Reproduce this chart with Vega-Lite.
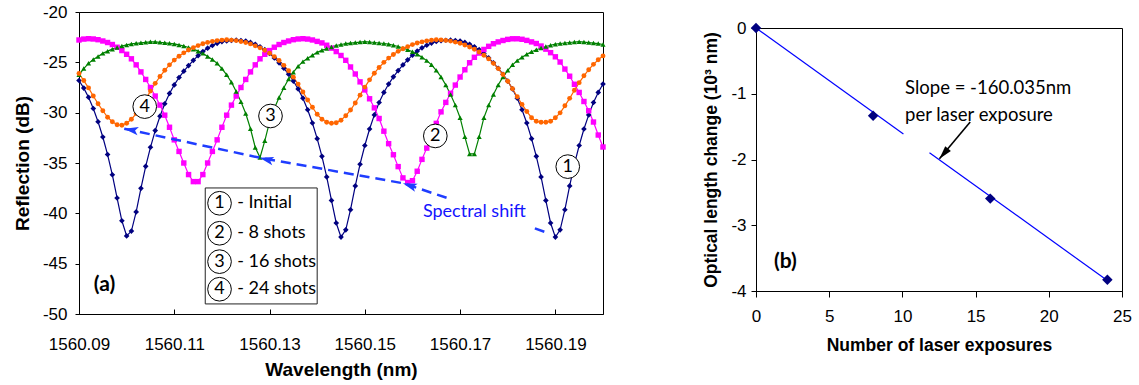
{
  "$schema": "https://vega.github.io/schema/vega-lite/v6.json",
  "padding": {"left": 12, "top": 2, "right": 5, "bottom": 5},
  "spacing": 94,
  "config": {
    "view": {"stroke": "#000", "strokeWidth": 1},
    "axis": {"grid": false, "labelFont": "Liberation Sans", "titleFont": "Liberation Sans", "labelColor": "#000", "titleColor": "#000", "domainColor": "#000", "tickColor": "#000", "labelFontSize": 17, "titleFontWeight": "bold", "labelFlush": false, "labelOverlap": false}
  },
  "datasets": {
    "spec": [
      {"wl":1560.090,"s0":-26.8,"s8":-22.78,"s16":-26.24,"s24":-26.11},
      {"wl":1560.091,"s0":-27.56,"s8":-22.69,"s16":-25.62,"s24":-26.81},
      {"wl":1560.092,"s0":-28.47,"s8":-22.65,"s16":-25.1,"s24":-27.54},
      {"wl":1560.093,"s0":-29.59,"s8":-22.68,"s16":-24.72,"s24":-28.34},
      {"wl":1560.094,"s0":-30.9,"s8":-22.75,"s16":-24.41,"s24":-29.11},
      {"wl":1560.095,"s0":-32.42,"s8":-22.88,"s16":-24.11,"s24":-29.81},
      {"wl":1560.096,"s0":-34.16,"s8":-23.03,"s16":-23.89,"s24":-30.45},
      {"wl":1560.097,"s0":-36.17,"s8":-23.23,"s16":-23.69,"s24":-30.9},
      {"wl":1560.098,"s0":-38.48,"s8":-23.5,"s16":-23.53,"s24":-31.2},
      {"wl":1560.099,"s0":-40.74,"s8":-23.83,"s16":-23.38,"s24":-31.25},
      {"wl":1560.100,"s0":-42.24,"s8":-24.2,"s16":-23.27,"s24":-31.05},
      {"wl":1560.101,"s0":-41.76,"s8":-24.65,"s16":-23.17,"s24":-30.65},
      {"wl":1560.102,"s0":-39.86,"s8":-25.25,"s16":-23.11,"s24":-30.09},
      {"wl":1560.103,"s0":-37.52,"s8":-25.95,"s16":-23.06,"s24":-29.39},
      {"wl":1560.104,"s0":-35.33,"s8":-26.7,"s16":-23.01,"s24":-28.66},
      {"wl":1560.105,"s0":-33.44,"s8":-27.5,"s16":-22.96,"s24":-27.86},
      {"wl":1560.106,"s0":-31.78,"s8":-28.35,"s16":-22.96,"s24":-27.09},
      {"wl":1560.107,"s0":-30.35,"s8":-29.25,"s16":-23.01,"s24":-26.41},
      {"wl":1560.108,"s0":-29.11,"s8":-30.25,"s16":-23.06,"s24":-25.79},
      {"wl":1560.109,"s0":-28.09,"s8":-31.45,"s16":-23.11,"s24":-25.25},
      {"wl":1560.110,"s0":-27.24,"s8":-32.7,"s16":-23.17,"s24":-24.78},
      {"wl":1560.111,"s0":-26.51,"s8":-33.85,"s16":-23.27,"s24":-24.4},
      {"wl":1560.112,"s0":-25.88,"s8":-35.0,"s16":-23.38,"s24":-24.06},
      {"wl":1560.113,"s0":-25.32,"s8":-36.15,"s16":-23.53,"s24":-23.78},
      {"wl":1560.114,"s0":-24.8,"s8":-36.85,"s16":-23.69,"s24":-23.54},
      {"wl":1560.115,"s0":-24.34,"s8":-36.85,"s16":-23.89,"s24":-23.34},
      {"wl":1560.116,"s0":-23.92,"s8":-36.15,"s16":-24.11,"s24":-23.16},
      {"wl":1560.117,"s0":-23.59,"s8":-35.0,"s16":-24.41,"s24":-23.02},
      {"wl":1560.118,"s0":-23.33,"s8":-33.85,"s16":-24.72,"s24":-22.92},
      {"wl":1560.119,"s0":-23.11,"s8":-32.7,"s16":-25.1,"s24":-22.84},
      {"wl":1560.120,"s0":-22.95,"s8":-31.45,"s16":-25.62,"s24":-22.79},
      {"wl":1560.121,"s0":-22.87,"s8":-30.25,"s16":-26.24,"s24":-22.75},
      {"wl":1560.122,"s0":-22.82,"s8":-29.25,"s16":-26.98,"s24":-22.79},
      {"wl":1560.123,"s0":-22.8,"s8":-28.35,"s16":-27.9,"s24":-22.84},
      {"wl":1560.124,"s0":-22.84,"s8":-27.5,"s16":-28.92,"s24":-22.93},
      {"wl":1560.125,"s0":-22.89,"s8":-26.7,"s16":-30.08,"s24":-23.03},
      {"wl":1560.126,"s0":-23.02,"s8":-25.95,"s16":-31.6,"s24":-23.17},
      {"wl":1560.127,"s0":-23.21,"s8":-25.25,"s16":-33.46,"s24":-23.36},
      {"wl":1560.128,"s0":-23.45,"s8":-24.65,"s16":-34.45,"s24":-23.56},
      {"wl":1560.129,"s0":-23.74,"s8":-24.2,"s16":-32.8,"s24":-23.8},
      {"wl":1560.130,"s0":-24.12,"s8":-23.83,"s16":-30.92,"s24":-24.09},
      {"wl":1560.131,"s0":-24.56,"s8":-23.5,"s16":-29.58,"s24":-24.43},
      {"wl":1560.132,"s0":-25.05,"s8":-23.23,"s16":-28.5,"s24":-24.82},
      {"wl":1560.133,"s0":-25.59,"s8":-23.03,"s16":-27.52,"s24":-25.3},
      {"wl":1560.134,"s0":-26.18,"s8":-22.88,"s16":-26.66,"s24":-25.84},
      {"wl":1560.135,"s0":-26.86,"s8":-22.75,"s16":-25.98,"s24":-26.47},
      {"wl":1560.136,"s0":-27.64,"s8":-22.68,"s16":-25.4,"s24":-27.16},
      {"wl":1560.137,"s0":-28.56,"s8":-22.65,"s16":-24.93,"s24":-27.94},
      {"wl":1560.138,"s0":-29.71,"s8":-22.69,"s16":-24.59,"s24":-28.74},
      {"wl":1560.139,"s0":-31.03,"s8":-22.78,"s16":-24.29,"s24":-29.46},
      {"wl":1560.140,"s0":-32.58,"s8":-22.92,"s16":-24.01,"s24":-30.16},
      {"wl":1560.141,"s0":-34.34,"s8":-23.07,"s16":-23.81,"s24":-30.65},
      {"wl":1560.142,"s0":-36.38,"s8":-23.3,"s16":-23.62,"s24":-30.95},
      {"wl":1560.143,"s0":-38.72,"s8":-23.59,"s16":-23.47,"s24":-31.05},
      {"wl":1560.144,"s0":-40.96,"s8":-23.93,"s16":-23.33,"s24":-31.0},
      {"wl":1560.145,"s0":-42.36,"s8":-24.32,"s16":-23.23,"s24":-30.75},
      {"wl":1560.146,"s0":-41.64,"s8":-24.8,"s16":-23.14,"s24":-30.3},
      {"wl":1560.147,"s0":-39.64,"s8":-25.46,"s16":-23.09,"s24":-29.74},
      {"wl":1560.148,"s0":-37.28,"s8":-26.16,"s16":-23.04,"s24":-29.04},
      {"wl":1560.149,"s0":-35.12,"s8":-26.94,"s16":-22.99,"s24":-28.26},
      {"wl":1560.150,"s0":-33.26,"s8":-27.74,"s16":-22.95,"s24":-27.46},
      {"wl":1560.151,"s0":-31.62,"s8":-28.62,"s16":-22.98,"s24":-26.74},
      {"wl":1560.152,"s0":-30.22,"s8":-29.52,"s16":-23.03,"s24":-26.08},
      {"wl":1560.153,"s0":-28.99,"s8":-30.58,"s16":-23.08,"s24":-25.51},
      {"wl":1560.154,"s0":-27.99,"s8":-31.84,"s16":-23.13,"s24":-25.0},
      {"wl":1560.155,"s0":-27.16,"s8":-33.08,"s16":-23.2,"s24":-24.58},
      {"wl":1560.156,"s0":-26.44,"s8":-34.18,"s16":-23.3,"s24":-24.22},
      {"wl":1560.157,"s0":-25.82,"s8":-35.36,"s16":-23.43,"s24":-23.91},
      {"wl":1560.158,"s0":-25.26,"s8":-36.48,"s16":-23.58,"s24":-23.65},
      {"wl":1560.159,"s0":-24.75,"s8":-36.94,"s16":-23.75,"s24":-23.44},
      {"wl":1560.160,"s0":-24.29,"s8":-36.76,"s16":-23.95,"s24":-23.24},
      {"wl":1560.161,"s0":-23.88,"s8":-35.82,"s16":-24.2,"s24":-23.08},
      {"wl":1560.162,"s0":-23.56,"s8":-34.64,"s16":-24.5,"s24":-22.97},
      {"wl":1560.163,"s0":-23.3,"s8":-33.52,"s16":-24.83,"s24":-22.87},
      {"wl":1560.164,"s0":-23.09,"s8":-32.34,"s16":-25.25,"s24":-22.81},
      {"wl":1560.165,"s0":-22.93,"s8":-31.06,"s16":-25.8,"s24":-22.76},
      {"wl":1560.166,"s0":-22.86,"s8":-29.92,"s16":-26.45,"s24":-22.77},
      {"wl":1560.167,"s0":-22.81,"s8":-28.98,"s16":-27.25,"s24":-22.82},
      {"wl":1560.168,"s0":-22.8,"s8":-28.08,"s16":-28.2,"s24":-22.89},
      {"wl":1560.169,"s0":-22.84,"s8":-27.26,"s16":-29.25,"s24":-22.99},
      {"wl":1560.170,"s0":-22.89,"s8":-26.46,"s16":-30.5,"s24":-23.11},
      {"wl":1560.171,"s0":-23.02,"s8":-25.74,"s16":-32.4,"s24":-23.28},
      {"wl":1560.172,"s0":-23.21,"s8":-25.04,"s16":-34.1,"s24":-23.48},
      {"wl":1560.173,"s0":-23.45,"s8":-24.5,"s16":-34.1,"s24":-23.7},
      {"wl":1560.174,"s0":-23.74,"s8":-24.08,"s16":-32.4,"s24":-23.97},
      {"wl":1560.175,"s0":-24.12,"s8":-23.72,"s16":-30.5,"s24":-24.29},
      {"wl":1560.176,"s0":-24.56,"s8":-23.41,"s16":-29.25,"s24":-24.66},
      {"wl":1560.177,"s0":-25.05,"s8":-23.15,"s16":-28.2,"s24":-25.1},
      {"wl":1560.178,"s0":-25.59,"s8":-22.97,"s16":-27.25,"s24":-25.62},
      {"wl":1560.179,"s0":-26.18,"s8":-22.83,"s16":-26.45,"s24":-26.21},
      {"wl":1560.180,"s0":-26.86,"s8":-22.72,"s16":-25.8,"s24":-26.88},
      {"wl":1560.181,"s0":-27.64,"s8":-22.66,"s16":-25.25,"s24":-27.62},
      {"wl":1560.182,"s0":-28.56,"s8":-22.66,"s16":-24.83,"s24":-28.42},
      {"wl":1560.183,"s0":-29.71,"s8":-22.71,"s16":-24.5,"s24":-29.18},
      {"wl":1560.184,"s0":-31.03,"s8":-22.82,"s16":-24.2,"s24":-29.88},
      {"wl":1560.185,"s0":-32.58,"s8":-22.97,"s16":-23.95,"s24":-30.5},
      {"wl":1560.186,"s0":-34.34,"s8":-23.13,"s16":-23.75,"s24":-30.85},
      {"wl":1560.187,"s0":-36.38,"s8":-23.38,"s16":-23.58,"s24":-30.95},
      {"wl":1560.188,"s0":-38.72,"s8":-23.69,"s16":-23.43,"s24":-30.95},
      {"wl":1560.189,"s0":-40.96,"s8":-24.04,"s16":-23.3,"s24":-30.85},
      {"wl":1560.190,"s0":-42.36,"s8":-24.45,"s16":-23.2,"s24":-30.5},
      {"wl":1560.191,"s0":-41.64,"s8":-24.97,"s16":-23.13,"s24":-30.02},
      {"wl":1560.192,"s0":-39.64,"s8":-25.67,"s16":-23.08,"s24":-29.32},
      {"wl":1560.193,"s0":-37.28,"s8":-26.38,"s16":-23.03,"s24":-28.58},
      {"wl":1560.194,"s0":-35.12,"s8":-27.18,"s16":-22.98,"s24":-27.78},
      {"wl":1560.195,"s0":-33.26,"s8":-27.99,"s16":-22.95,"s24":-27.02},
      {"wl":1560.196,"s0":-31.62,"s8":-28.89,"s16":-22.99,"s24":-26.34},
      {"wl":1560.197,"s0":-30.22,"s8":-29.81,"s16":-23.04,"s24":-25.73},
      {"wl":1560.198,"s0":-28.99,"s8":-30.93,"s16":-23.09,"s24":-25.2},
      {"wl":1560.199,"s0":-27.99,"s8":-32.22,"s16":-23.14,"s24":-24.74},
      {"wl":1560.200,"s0":-27.16,"s8":-33.41,"s16":-23.23,"s24":-24.36}
    ],
    "arrowA": [
      {"wl":1560.1884,"r":-41.95,"seg":"a"},
      {"wl":1560.1857,"r":-41.5,"seg":"a"},
      {"wl":1560.1681,"r":-38.6,"seg":"b"},
      {"wl":1560.1580,"r":-37.01,"seg":"b"},
      {"wl":1560.1279,"r":-34.47,"seg":"b"},
      {"wl":1560.0995,"r":-31.59,"seg":"b"}
    ],
    "headsA": [
      {"wl":1560.1580,"r":-37.01,"k":"1"},
      {"wl":1560.1279,"r":-34.47,"k":"2"},
      {"wl":1560.0995,"r":-31.59,"k":"3"}
    ],
    "boxA": [{"wl":1560.1165,"wl2":1560.1400,"r":-37.48,"r2":-49.0}],
    "circA": [
      {"wl":1560.1038,"r":-29.4,"n":"4"},
      {"wl":1560.1302,"r":-30.33,"n":"3"},
      {"wl":1560.1648,"r":-32.31,"n":"2"},
      {"wl":1560.1926,"r":-35.36,"n":"1"},
      {"wl":1560.1195,"r":-39.0,"n":"1"},
      {"wl":1560.1195,"r":-41.98,"n":"2"},
      {"wl":1560.1195,"r":-44.8,"n":"3"},
      {"wl":1560.1195,"r":-47.54,"n":"4"}
    ],
    "legA": [
      {"wl":1560.1232,"r":-39.0,"t":"- Initial"},
      {"wl":1560.1232,"r":-41.98,"t":"- 8 shots"},
      {"wl":1560.1232,"r":-44.8,"t":"- 16 shots"},
      {"wl":1560.1232,"r":-47.54,"t":"- 24 shots"}
    ],
    "shiftA": [{"wl":1560.173,"r":-39.86,"t":"Spectral shift"}],
    "tagA": [{"wl":1560.0931,"r":-47.1,"t":"(a)"}],
    "pointsB": [
      {"n":0,"v":0},{"n":8,"v":-1.335},{"n":16,"v":-2.595},{"n":24,"v":-3.83}
    ],
    "fitB": [
      {"n":0,"v":0,"g":"a"},{"n":10.07,"v":-1.611,"g":"a"},
      {"n":11.85,"v":-1.896,"g":"b"},{"n":24,"v":-3.841,"g":"b"}
    ],
    "arrowB": [{"n":14.63,"v":-1.43},{"n":12.53,"v":-1.99}],
    "headB": [{"n":12.53,"v":-1.99}],
    "noteB": [
      {"n":10.18,"v":-0.917,"t":"Slope = -160.035nm"},
      {"n":10.18,"v":-1.328,"t":"per laser exposure"}
    ],
    "tagB": [{"n":1.23,"v":-3.56,"t":"(b)"}]
  },
  "hconcat": [
    {
      "width": 524,
      "height": 302,
      "encoding": {
        "x": {"field": "wl", "type": "quantitative",
          "scale": {"domain": [1560.09, 1560.2], "nice": false, "zero": false},
          "axis": {"values": [1560.09, 1560.11, 1560.13, 1560.15, 1560.17, 1560.19], "format": ".2f", "title": "Wavelength (nm)", "titleFontSize": 19, "tickSize": -5, "labelPadding": 27, "titlePadding": 8}},
        "y": {"field": "r", "type": "quantitative",
          "scale": {"domain": [-50, -20], "nice": false, "zero": false},
          "axis": {"values": [-50, -45, -40, -35, -30, -25, -20], "labelExpr": "replace(datum.label, '−', '-')", "title": "Reflection (dB)", "titleFontSize": 19, "tickSize": 4, "labelPadding": 8, "titlePadding": 10}}
      },
      "layer": [
        {
          "data": {"name": "spec"},
          "transform": [{"fold": ["s0", "s8", "s16", "s24"], "as": ["series", "r"]}],
          "layer": [
            {
              "mark": {"type": "line", "strokeWidth": 1.2},
              "encoding": {
                "color": {"field": "series", "type": "nominal", "scale": {"domain": ["s0", "s8", "s16", "s24"], "range": ["#000080", "#ff00ff", "#008000", "#ff6600"]}, "legend": null}
              }
            },
            {
              "mark": {"type": "point", "filled": true, "opacity": 1},
              "encoding": {
                "color": {"field": "series", "type": "nominal", "scale": {"domain": ["s0", "s8", "s16", "s24"], "range": ["#000080", "#ff00ff", "#008000", "#ff6600"]}, "legend": null},
                "shape": {"field": "series", "type": "nominal", "scale": {"domain": ["s0", "s8", "s16", "s24"], "range": ["diamond", "square", "triangle-up", "circle"]}, "legend": null},
                "size": {"field": "series", "type": "nominal", "scale": {"domain": ["s0", "s8", "s16", "s24"], "range": [32, 24, 32, 24]}, "legend": null}
              }
            }
          ]
        },
        {
          "data": {"name": "arrowA"},
          "mark": {"type": "line", "color": "#1f3dff", "strokeWidth": 2.5, "strokeDash": [10, 6]},
          "encoding": {"detail": {"field": "seg", "type": "nominal"}}
        },
        {
          "data": {"name": "headsA"},
          "mark": {"type": "point", "shape": "M0,0 L2,-0.6 L1.55,0 L2,0.6 Z", "size": 200, "filled": true, "color": "#1f3dff", "opacity": 1},
          "encoding": {"angle": {"field": "k", "type": "nominal", "scale": {"domain": ["1", "2", "3"], "range": [19, 10, 12]}, "legend": null}}
        },
        {
          "data": {"name": "boxA"},
          "mark": {"type": "rect", "fill": "white", "stroke": "#222", "strokeWidth": 1},
          "encoding": {"x2": {"field": "wl2"}, "y2": {"field": "r2"}}
        },
        {
          "data": {"name": "circA"},
          "layer": [
            {"mark": {"type": "point", "shape": "circle", "size": 560, "filled": true, "fill": "white", "stroke": "#000", "strokeWidth": 1, "opacity": 1}},
            {"mark": {"type": "text", "font": "Lato", "fontSize": 18, "color": "#000", "align": "center", "baseline": "middle"}, "encoding": {"text": {"field": "n"}}}
          ]
        },
        {
          "data": {"name": "legA"},
          "mark": {"type": "text", "font": "Lato", "fontSize": 18, "color": "#000", "align": "left", "baseline": "middle"},
          "encoding": {"text": {"field": "t"}}
        },
        {
          "data": {"name": "shiftA"},
          "mark": {"type": "text", "font": "Lato", "fontSize": 18, "color": "#1414ff", "align": "center", "baseline": "middle"},
          "encoding": {"text": {"field": "t"}}
        },
        {
          "data": {"name": "tagA"},
          "mark": {"type": "text", "font": "Lato", "fontSize": 21, "fontWeight": "bold", "color": "#000", "align": "left", "baseline": "middle"},
          "encoding": {"text": {"field": "t"}}
        }
      ]
    },
    {
      "spacing": 5,
      "vconcat": [
        {
          "width": 366,
          "height": 1,
          "view": {"stroke": null},
          "data": {"values": []},
          "mark": "point"
        },
        {
          "width": 366,
          "height": 263,
          "encoding": {
            "x": {"field": "n", "type": "quantitative",
              "scale": {"domain": [0, 25], "nice": false},
              "axis": {"values": [0, 5, 10, 15, 20, 25], "title": "Number of laser exposures", "titleFontSize": 17.5, "tickSize": 6, "labelPadding": 11, "titlePadding": 12}},
            "y": {"field": "v", "type": "quantitative",
              "scale": {"domain": [-4, 0], "nice": false},
              "axis": {"values": [-4, -3, -2, -1, 0], "labelExpr": "replace(datum.label, '−', '-')", "title": "Optical length change (10³ nm)", "titleFontSize": 17.5, "tickSize": 5, "labelPadding": 5, "titlePadding": 10.5}}
          },
          "layer": [
            {
              "data": {"name": "fitB"},
              "mark": {"type": "line", "color": "#0000ff", "strokeWidth": 1.2},
              "encoding": {"detail": {"field": "g", "type": "nominal"}}
            },
            {
              "data": {"name": "pointsB"},
              "mark": {"type": "point", "shape": "diamond", "size": 110, "filled": true, "color": "#000080", "opacity": 1}
            },
            {
              "data": {"name": "arrowB"},
              "mark": {"type": "line", "color": "#000", "strokeWidth": 1.6},
              "encoding": {}
            },
            {
              "data": {"name": "headB"},
              "mark": {"type": "point", "shape": "M0,0 L2,-0.55 L2,0.55 Z", "size": 180, "filled": true, "color": "#000", "opacity": 1, "angle": 310}
            },
            {
              "data": {"name": "noteB"},
              "mark": {"type": "text", "font": "Lato", "fontSize": 18.5, "color": "#000", "align": "left", "baseline": "middle"},
              "encoding": {"text": {"field": "t"}}
            },
            {
              "data": {"name": "tagB"},
              "mark": {"type": "text", "font": "Lato", "fontSize": 21, "fontWeight": "bold", "color": "#000", "align": "left", "baseline": "middle"},
              "encoding": {"text": {"field": "t"}}
            }
          ]
        }
      ]
    }
  ]
}
